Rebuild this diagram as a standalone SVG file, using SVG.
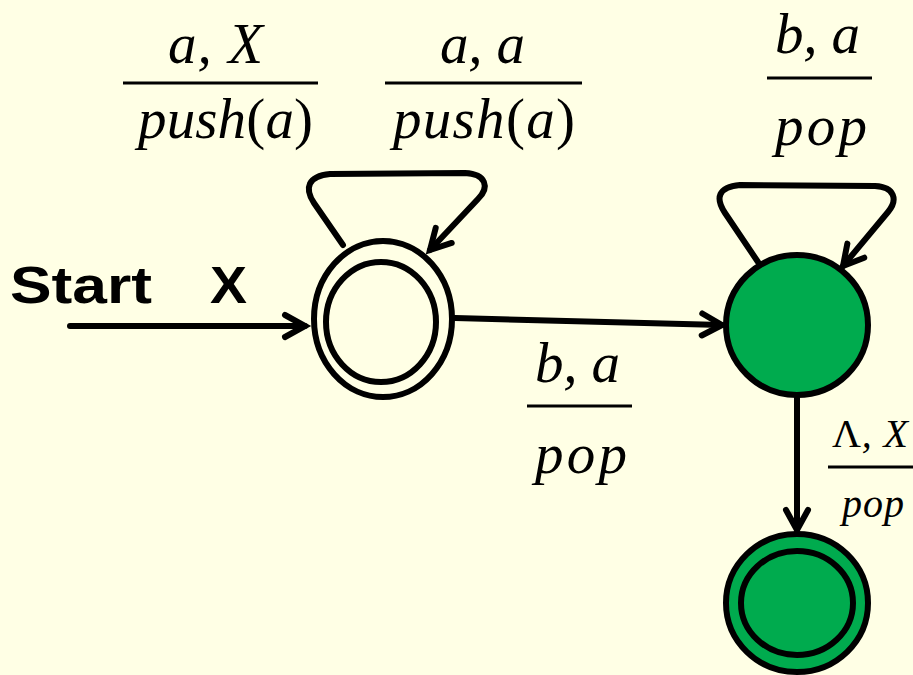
<svg xmlns="http://www.w3.org/2000/svg" width="913" height="675" viewBox="0 0 913 675">
<defs>
<style>
.st{stroke:#000;stroke-width:6;}
.wf{fill:#FFFFE5;}
.gf{fill:#00AB4E;}
.edge{fill:none;stroke:#000;stroke-width:6;stroke-linecap:round;stroke-linejoin:round;marker-end:url(#arr);}
.bar{stroke:#000;stroke-width:3;}
.up{font-style:normal;}
</style>
<marker id="arr" markerUnits="userSpaceOnUse" markerWidth="40" markerHeight="40" refX="0" refY="0" viewBox="-25 -20 30 40" orient="auto" overflow="visible">
<path d="M -20 -11 L 0 0 L -20 11" fill="none" stroke="#000" stroke-width="6" stroke-linecap="round" stroke-linejoin="miter"/>
</marker>
</defs>
<rect x="0" y="0" width="913" height="675" fill="#FFFFE5"/>

<g id="connectors">
<path class="edge" d="M 70 326 L 305 326"/>
<path class="edge" d="M 455 318 L 722 325"/>
<path class="edge" d="M 797 398 L 797 530"/>
<path class="edge" d="M 343 245 L 314 203 C 304 188 308 176 330 174 L 465 173 C 486 174 490 187 478 199 L 430 250"/>
<path class="edge" d="M 758 262 L 725 213 C 715 198 718 187 740 185 L 875 186 C 895 187 898 200 888 212 L 843 266"/>
</g>

<g id="q0">
<ellipse class="st wf" cx="383" cy="319" rx="69" ry="78"/>
<ellipse class="st wf" cx="381" cy="322" rx="55" ry="60"/>
</g>
<g id="q1">
<ellipse class="st gf" cx="797" cy="325" rx="71" ry="70"/>
</g>
<g id="q2">
<ellipse class="st gf" cx="797" cy="603" rx="71" ry="69"/>
<ellipse class="st gf" cx="797" cy="603" rx="56" ry="52"/>
</g>

<g id="start-label" font-family="Liberation Sans, Arial, sans-serif" font-weight="bold" font-size="52" fill="#000">
<text x="10" y="303" textLength="142" lengthAdjust="spacingAndGlyphs">Start</text>
<text x="210" y="303" textLength="37" lengthAdjust="spacingAndGlyphs">X</text>
</g>

<g id="labels" font-family="Liberation Serif, Times New Roman, serif" font-style="italic" font-size="57" fill="#000">
<g id="label-q0-loop1">
<text x="168" y="63" textLength="95">a, X</text>
<line class="bar" x1="123" y1="83" x2="318" y2="83"/>
<text x="138" y="138" textLength="175">push<tspan class="up">(</tspan>a<tspan class="up">)</tspan></text>
</g>
<g id="label-q0-loop2">
<text x="440" y="63" textLength="85">a, a</text>
<line class="bar" x1="385" y1="83" x2="582" y2="83"/>
<text x="393" y="138" textLength="182">push<tspan class="up">(</tspan>a<tspan class="up">)</tspan></text>
</g>
<g id="label-q1-loop">
<text x="775" y="53" textLength="85">b, a</text>
<line class="bar" x1="767" y1="78" x2="872" y2="78"/>
<text x="775" y="145" textLength="92">pop</text>
</g>
<g id="label-q0-q1">
<text x="535" y="382" textLength="85">b, a</text>
<line class="bar" x1="527" y1="406" x2="632" y2="406"/>
<text x="535" y="473" textLength="92">pop</text>
</g>
<g id="label-q1-q2" font-size="40">
<text x="832" y="447" textLength="76"><tspan class="up">Λ</tspan>, X</text>
<line class="bar" x1="828" y1="467" x2="913" y2="467"/>
<text x="842" y="517" textLength="62">pop</text>
</g>
</g>
</svg>
